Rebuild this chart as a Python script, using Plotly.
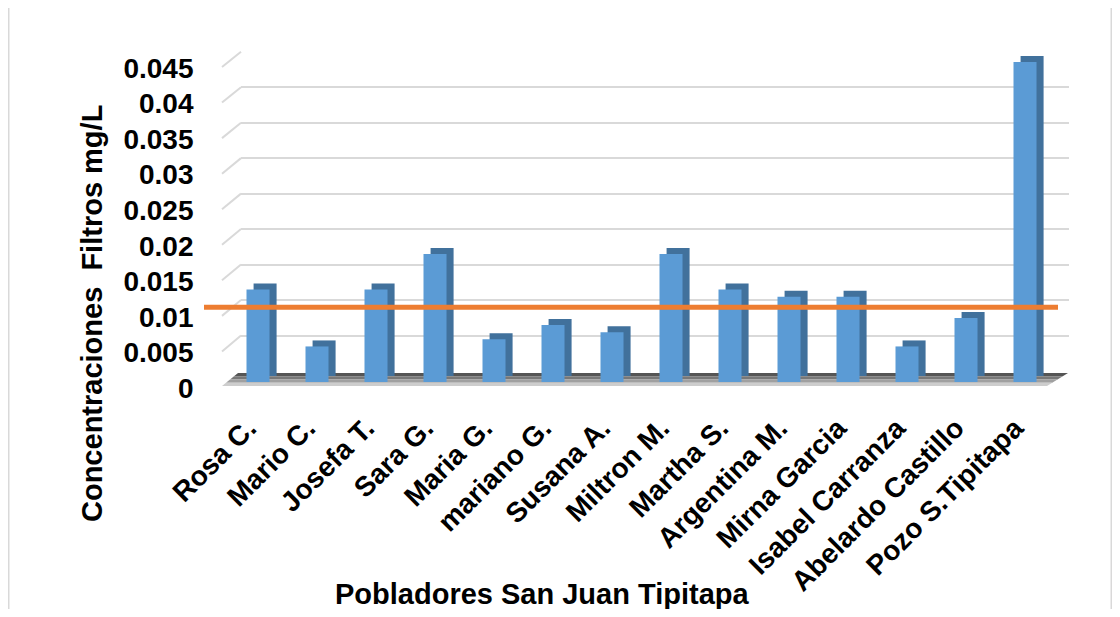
import plotly.graph_objects as go

# ---------------- data ----------------
pobladores = ["Rosa C.", "Mario C.", "Josefa T.", "Sara G.", "Maria G.", "mariano G.",
              "Susana A.", "Miltron M.", "Martha S.", "Argentina M.", "Mirna Garcia",
              "Isabel Carranza", "Abelardo Castillo", "Pozo S.Tipitapa"]
concentraciones = [0.013, 0.005, 0.013, 0.018, 0.006, 0.008, 0.007, 0.018,
                   0.013, 0.012, 0.012, 0.005, 0.009, 0.045]
limite = 0.0105
y_ticks = [0, 0.005, 0.01, 0.015, 0.02, 0.025, 0.03, 0.035, 0.04, 0.045]
y_tick_text = ["0", "0.005", "0.01", "0.015", "0.02", "0.025", "0.03", "0.035", "0.04", "0.045"]
y_title = "Concentraciones\u00a0\u00a0Filtros mg/L"
x_title = "Pobladores San Juan Tipitapa"

# ---------------- layout helpers (page pixel coordinates) ----------------
OFF = 8                      # default body margin of the html page
W, H = 1104, 601
LP, RP, TP, BP = 200, 1080, 40, 417   # plot area in page pixels


def fx(px):
    return (px - LP) / (RP - LP)


def fy(py):
    return (BP - py) / (BP - TP)


YMAX = 0.045
FONT = "Liberation Sans, Arial, sans-serif"
front_col = "#5B9BD5"
back_col = "#41719C"

# planes (pixel of 0 and of YMAX)
plane_labels = (388, 68)
plane_bar_front = (382, 62)
plane_bar_back = (376, 56)
plane_grid = (371, 51.7)


def plane_px(plane, v):
    return plane[0] + (plane[1] - plane[0]) * v / YMAX


idx = list(range(len(pobladores)))
fig = go.Figure()

# carrier for the main (label) subplot
fig.add_trace(go.Scatter(x=[0], y=[0], xaxis="x", yaxis="y", mode="markers",
                         marker=dict(opacity=0), showlegend=False, hoverinfo="skip"))
# carrier for back-wall gridlines
fig.add_trace(go.Scatter(x=[0], y=[0], xaxis="x2", yaxis="y4", mode="markers",
                         marker=dict(opacity=0), showlegend=False, hoverinfo="skip"))
# back rectangles of bars (top + side faces)
fig.add_trace(go.Bar(
    x=idx, y=concentraciones, xaxis="x3", yaxis="y2",
    width=0.39, offset=-0.195 + 0.12, marker=dict(color=back_col, line=dict(width=0)),
    showlegend=False, hoverinfo="skip"))
# front faces of bars
fig.add_trace(go.Bar(
    x=idx, y=concentraciones, xaxis="x3", yaxis="y3",
    width=0.39, offset=-0.195, marker=dict(color=front_col, line=dict(width=0)),
    showlegend=False, hovertemplate="%{y}<extra></extra>"))

shapes = []
# outer border
shapes.append(dict(type="rect", xref="paper", yref="paper",
                   x0=fx(8.5), x1=fx(1111.5), y0=fy(5.5), y1=fy(640),
                   line=dict(color="#D9D9D9", width=2), fillcolor="rgba(0,0,0,0)", layer="below"))
# slanted grid stubs on the side wall
for v in y_ticks[1:]:
    shapes.append(dict(type="line", xref="paper", yref="paper",
                       x0=fx(222), y0=fy(plane_px(plane_labels, v) - 1),
                       x1=fx(241), y1=fy(plane_px(plane_grid, v)),
                       line=dict(color="#D9D9D9", width=2), layer="below"))
# floor shadow bands
floor_back_y, floor_front_y = 373, 386
bl, br, fl, frt = 238, 1068, 222, 1047
band_cols = ["rgb(85,85,85)", "rgb(120,120,120)", "rgb(160,160,160)", "rgb(205,205,205)"]
n = len(band_cols)
for i, c in enumerate(band_cols):
    t0, t1 = i / n, (i + 1) / n
    ya = floor_back_y + (floor_front_y - floor_back_y) * t0
    yb = floor_back_y + (floor_front_y - floor_back_y) * t1
    xla, xlb = bl + (fl - bl) * t0, bl + (fl - bl) * t1
    xra, xrb = br + (frt - br) * t0, br + (frt - br) * t1
    path = (f"M {fx(xla)} {fy(ya)} L {fx(xra)} {fy(ya)} L {fx(xrb)} {fy(yb)} "
            f"L {fx(xlb)} {fy(yb)} Z")
    shapes.append(dict(type="path", xref="paper", yref="paper", path=path,
                       fillcolor=c, line=dict(width=0), layer="between"))
# threshold line
shapes.append(dict(type="line", xref="paper", yref="y3", x0=fx(204), x1=fx(1058),
                   y0=limite, y1=limite, line=dict(color="#ED7D31", width=5), layer="above"))

annotations = [
    dict(text=f"<b>{y_title}</b>", xref="paper", yref="paper", x=fx(92), y=fy(314),
         showarrow=False, textangle=-90, font=dict(family=FONT, size=29, color="black"),
         xanchor="center", yanchor="middle"),
    dict(text=f"<b>{x_title}</b>", xref="paper", yref="paper", x=fx(542), y=fy(594),
         showarrow=False, font=dict(family=FONT, size=29, color="black"),
         xanchor="center", yanchor="middle"),
]

fig.update_layout(
    width=W, height=H,
    margin=dict(l=LP - OFF, r=W - (RP - OFF), t=TP - OFF, b=H - (BP - OFF), pad=0),
    paper_bgcolor="white", plot_bgcolor="rgba(0,0,0,0)",
    barmode="overlay",
    shapes=shapes, annotations=annotations,
    # category label axis (slightly left of the bar faces, like the original)
    xaxis=dict(domain=[fx(228.5 - 10), fx(1054.5 - 10)], range=[-0.5, len(pobladores) - 0.5],
               tickmode="array", tickvals=idx, ticktext=pobladores,
               tickangle=-45, tickfont=dict(family=FONT, size=28, color="black", weight="bold"),
               showgrid=False, zeroline=False, showline=False, ticks="", anchor="y",
               ticklabelstandoff=17, fixedrange=True),
    xaxis2=dict(domain=[fx(241), fx(1069)], range=[0, 1], visible=False,
                anchor="y4", fixedrange=True),
    xaxis3=dict(domain=[fx(228.5), fx(1054.5)], range=[-0.5, len(pobladores) - 0.5],
                visible=False, anchor="y3", fixedrange=True),
    yaxis=dict(domain=[fy(plane_labels[0]), fy(plane_labels[1])], range=[0, YMAX],
               tickmode="array", tickvals=y_ticks, ticktext=y_tick_text,
               tickfont=dict(family=FONT, size=28, color="black", weight="bold"),
               showgrid=False, zeroline=False, showline=False, ticks="", anchor="x",
               ticklabelstandoff=24, fixedrange=True),
    yaxis2=dict(domain=[fy(plane_bar_back[0]), fy(plane_bar_back[1])], range=[0, YMAX],
                visible=False, anchor="x3", fixedrange=True),
    yaxis3=dict(domain=[fy(plane_bar_front[0]), fy(plane_bar_front[1])], range=[0, YMAX],
                visible=False, anchor="x3", fixedrange=True),
    yaxis4=dict(domain=[fy(plane_grid[0]), fy(plane_grid[1])], range=[0, YMAX],
                tickmode="array", tickvals=y_ticks[1:], showticklabels=False,
                showgrid=True, gridcolor="#D9D9D9", gridwidth=2, zeroline=False,
                showline=False, ticks="", anchor="x2", fixedrange=True),
)

fig.write_html("out.html")
